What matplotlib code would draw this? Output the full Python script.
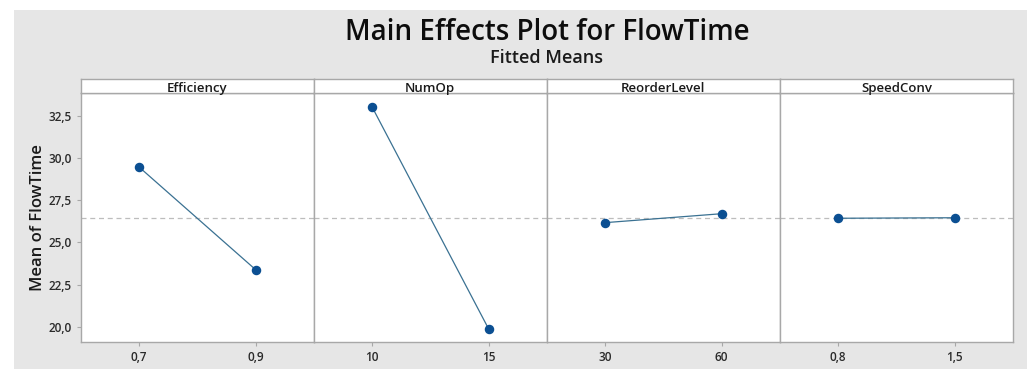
import matplotlib.pyplot as plt
from matplotlib.patches import Rectangle
from matplotlib.ticker import FuncFormatter

# Fitted means per factor level
factors = ['Efficiency', 'NumOp', 'ReorderLevel', 'SpeedConv']
levels = [['0,7', '0,9'], ['10', '15'], ['30', '60'], ['0,8', '1,5']]
efficiency_means = [29.47, 23.39]
numop_means = [33.03, 19.88]
reorder_means = [26.17, 26.70]
speedconv_means = [26.43, 26.46]
grand_mean = 26.44

y_ticks = [20.0, 22.5, 25.0, 27.5, 30.0, 32.5]

all_means = [efficiency_means, numop_means, reorder_means, speedconv_means]

plt.rcParams['font.family'] = ['Open Sans', 'DejaVu Sans']

fig = plt.figure(figsize=(10.27, 3.69), dpi=100)
fig.patch.set_facecolor('white')
fig.patches.append(Rectangle((14 / 1027, 0), 1 - 14 / 1027, 1 - 10 / 369,
                             transform=fig.transFigure, facecolor='#e6e6e6',
                             edgecolor='none', zorder=-10))

left = 80.7 / 1027
right = 1013 / 1027
bottom = 1 - 342 / 369
top = 1 - 93 / 369
strip_top = 1 - 79 / 369
width = (right - left) / 4
edge = '#a8a8a8'

for i, (name, labels, means) in enumerate(zip(factors, levels, all_means)):
    ax = fig.add_axes([left + i * width, bottom, width, top - bottom])
    ax.set_facecolor('white')
    xs = list(range(len(labels)))
    ax.axhline(grand_mean, color='#bdbdbd', linestyle=(0, (4, 3)), linewidth=0.9, zorder=1)
    ax.plot(xs, means, color='#3a7192', linewidth=0.9, zorder=2)
    ax.scatter(xs, means, s=34, color='#0b4f92', zorder=3)
    ax.set_xlim(-0.5, 1.5)
    ax.set_ylim(19.1, 33.85)
    ax.set_xticks(xs)
    ax.set_xticklabels(labels)
    ax.set_yticks(y_ticks)
    ax.yaxis.set_major_formatter(FuncFormatter(lambda v, p: f'{v:.1f}'.replace('.', ',')))
    for s in ax.spines.values():
        s.set_color(edge)
        s.set_linewidth(1.0)
    ax.tick_params(axis='both', colors=edge, labelcolor='#2a2a2a', labelsize=8.5,
                   length=3, width=0.8)
    for lbl in ax.get_xticklabels() + ax.get_yticklabels():
        lbl.set_fontweight('semibold')
    if i == 0:
        ax.set_ylabel('Mean of FlowTime', fontsize=12, color='#1a1a1a', labelpad=2,
                      fontweight='semibold')
    else:
        ax.tick_params(axis='y', left=False, labelleft=False)

    # factor name header
    sax = fig.add_axes([left + i * width, top, width, strip_top - top])
    sax.set_facecolor('white')
    sax.set_xticks([])
    sax.set_yticks([])
    for s in sax.spines.values():
        s.set_color(edge)
        s.set_linewidth(1.0)
    sax.text(0.5, 0.42, name, ha='center', va='center_baseline', fontsize=9.5,
             fontweight='semibold', color='#1a1a1a', transform=sax.transAxes)

fig.text((left + right) / 2, 1 - 33 / 369, 'Main Effects Plot for FlowTime',
         ha='center', va='center', fontsize=20, fontweight='semibold', color='#0d0d0d')
fig.text((left + right) / 2, 1 - 58 / 369, 'Fitted Means',
         ha='center', va='center', fontsize=13, fontweight='semibold', color='#1a1a1a')

fig.savefig('out.png', dpi=100, facecolor=fig.get_facecolor())
